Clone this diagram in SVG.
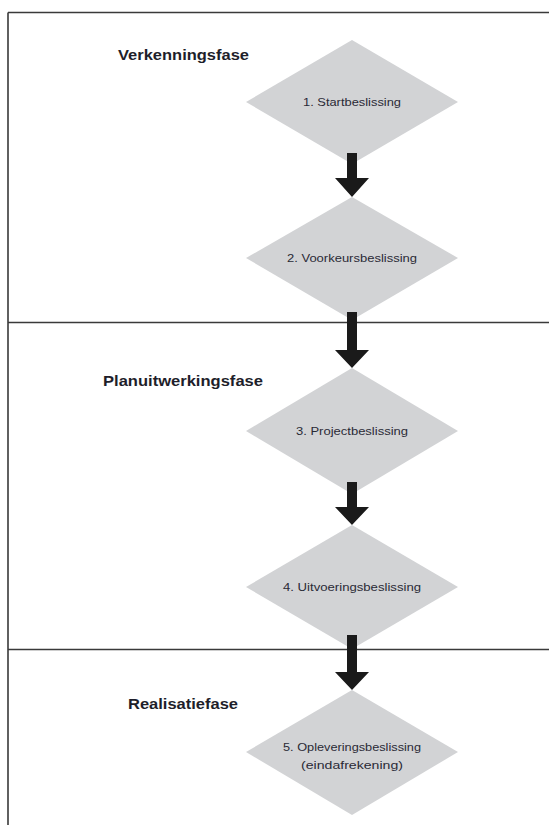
<svg xmlns="http://www.w3.org/2000/svg" width="549" height="825" viewBox="0 0 549 825">
  <style>
    .frame { stroke: #3a3a3a; stroke-width: 1.6; fill: none; }
    .decision { fill: #d2d3d5; }
    .phase { font-family: "Liberation Sans", Arial, sans-serif; font-weight: bold; font-size: 15px; fill: #1e1e2a; }
    .label { font-family: "Liberation Sans", Arial, sans-serif; font-size: 10.5px; fill: #2a2a35; text-anchor: middle; }
    .arrow { fill: #1a1a1a; }
  </style>
  <rect width="549" height="825" fill="#ffffff"/>

  <!-- phase frame: top edge, left edge and two dividers -->
  <g id="frame">
    <path class="frame" d="M8 12.5 H549 M8 12.5 V825 M8 322.5 H549 M8 649.5 H549"/>
  </g>

  <!-- phase titles -->
  <g id="phase-verkenning">
    <text class="phase" x="118" y="60" textLength="131" lengthAdjust="spacingAndGlyphs">Verkenningsfase</text>
  </g>
  <g id="phase-planuitwerking">
    <text class="phase" x="103" y="386" textLength="160" lengthAdjust="spacingAndGlyphs">Planuitwerkingsfase</text>
  </g>
  <g id="phase-realisatie">
    <text class="phase" x="128" y="709" textLength="110" lengthAdjust="spacingAndGlyphs">Realisatiefase</text>
  </g>

  <!-- decision diamonds -->
  <g id="decision-1">
    <polygon class="decision" points="352,40 458,102 352,164 246,102"/>
    <text class="label" x="352" y="106" textLength="98" lengthAdjust="spacingAndGlyphs">1. Startbeslissing</text>
  </g>
  <g id="decision-2">
    <polygon class="decision" points="352,197 458,258 352,320 246,258"/>
    <text class="label" x="352" y="262" textLength="130" lengthAdjust="spacingAndGlyphs">2. Voorkeursbeslissing</text>
  </g>
  <g id="decision-3">
    <polygon class="decision" points="352,368 458,431 352,494 246,431"/>
    <text class="label" x="352" y="435" textLength="112" lengthAdjust="spacingAndGlyphs">3. Projectbeslissing</text>
  </g>
  <g id="decision-4">
    <polygon class="decision" points="352,525 458,587 352,649 246,587"/>
    <text class="label" x="352" y="591" textLength="138" lengthAdjust="spacingAndGlyphs">4. Uitvoeringsbeslissing</text>
  </g>
  <g id="decision-5">
    <polygon class="decision" points="352,690 458,752 352,815 246,752"/>
    <text class="label" x="352" y="751" textLength="138" lengthAdjust="spacingAndGlyphs">5. Opleveringsbeslissing</text>
    <text class="label" x="352" y="769" textLength="102" lengthAdjust="spacingAndGlyphs">(eindafrekening)</text>
  </g>

  <!-- connectors: thick block arrows between decisions -->
  <g id="connectors">
    <polygon class="arrow" points="347,153 357,153 357,178 369,178 352,197 335,178 347,178"/>
    <polygon class="arrow" points="347,312 357,312 357,350 369,350 352,368 335,350 347,350"/>
    <polygon class="arrow" points="347,482 357,482 357,507 369,507 352,525 335,507 347,507"/>
    <polygon class="arrow" points="347,635 357,635 357,672 369,672 352,690 335,672 347,672"/>
  </g>
</svg>
